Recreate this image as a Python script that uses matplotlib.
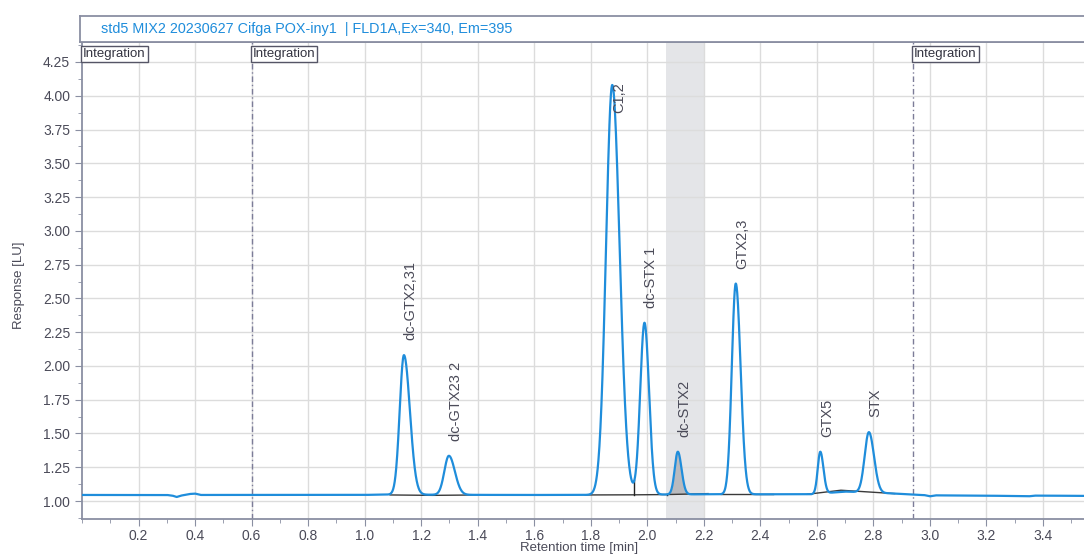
import numpy as np
import matplotlib.pyplot as plt
from matplotlib.ticker import MultipleLocator, FormatStrFormatter

plt.rcParams['font.family'] = ['Liberation Sans', 'DejaVu Sans']

# run info
title = 'std5 MIX2 20230627 Cifga POX-iny1  | FLD1A,Ex=340, Em=395'

# identified peaks: name, retention time [min], apex response [LU], left/right half widths
peak_names = ['dc-GTX2,31', 'dc-GTX23 2', 'C1,2', 'dc-STX 1', 'dc-STX2', 'GTX2,3', 'GTX5', 'STX']
peak_rt = [1.139, 1.298, 1.876, 1.990, 2.108, 2.313, 2.612, 2.784]
peak_top = [2.08, 1.335, 4.08, 2.32, 1.365, 2.61, 1.365, 1.51]
peak_sl = [0.015, 0.016, 0.022, 0.015, 0.011, 0.014, 0.009, 0.015]
peak_sr = [0.021, 0.021, 0.026, 0.016, 0.013, 0.017, 0.011, 0.018]

# detector baseline
base_t = [0.0, 0.30, 0.32, 0.335, 0.35, 0.38, 0.40, 0.42, 1.0, 1.05, 1.5, 1.75,
          2.2, 2.5, 2.58, 2.70, 2.76, 2.88, 2.96, 2.98, 3.00, 3.02, 3.2, 3.35,
          3.37, 3.4, 3.55]
base_v = [1.045, 1.045, 1.04, 1.030, 1.04, 1.052, 1.055, 1.045, 1.045, 1.048, 1.045, 1.045,
          1.05, 1.05, 1.05, 1.07, 1.065, 1.055, 1.045, 1.044, 1.035, 1.042, 1.04, 1.035,
          1.040, 1.040, 1.038]

# integration baselines and drop lines
int_t = [[1.09, 1.24, 1.40], [1.78, 1.954, 2.07, 2.215], [2.262, 2.445], [2.566, 2.685, 2.875]]
int_v = [[1.045, 1.042, 1.045], [1.045, 1.046, 1.048, 1.055], [1.05, 1.05], [1.05, 1.08, 1.055]]
drop_t = [1.954, 2.07]

# integration events and highlighted window
events = [0.0, 0.6, 2.94]
band = (2.067, 2.205)


def shape(t, rt, sl, sr):
    s = np.where(t < rt, sl, sr)
    return np.exp(-0.5 * ((t - rt) / s) ** 2)


t = np.linspace(0, 3.545, 4000)
base = np.interp(t, base_t, base_v)

# amplitudes so the summed trace passes through each apex value
rt = np.array(peak_rt)
M = np.array([[shape(np.array([rt[i]]), peak_rt[j], peak_sl[j], peak_sr[j])[0]
               for j in range(len(rt))] for i in range(len(rt))])
amps = np.linalg.solve(M, np.array(peak_top) - np.interp(rt, base_t, base_v))
trace = base.copy()
for a, r, sl, sr in zip(amps, peak_rt, peak_sl, peak_sr):
    trace += a * shape(t, r, sl, sr)

axis_col = '#8a8fa2'
text_col = '#4a4a58'
blue = '#1f8ddb'

fig = plt.figure(figsize=(10.84, 5.57), dpi=100)
ax = fig.add_axes([82 / 1084, 1 - 519 / 557, 1 - 82 / 1084, 477 / 557])

ax.axvspan(band[0], band[1], color='#e4e5e8', zorder=0, lw=0)

for ev in events[1:]:
    ax.axvline(ev, color='#7c7c98', lw=1, ls=(0, (4, 2, 1, 2)), zorder=1)

# shaded area of dc-STX2 above its baseline
seg = 1
m = (t >= int_t[seg][2]) & (t <= int_t[seg][3])
ax.fill_between(t[m], np.interp(t[m], int_t[seg], int_v[seg]), trace[m],
                color='#b9babe', lw=0, zorder=2)

for xs, ys in zip(int_t, int_v):
    ax.plot(xs, ys, color='#3a3a3a', lw=1, zorder=2)
for d in drop_t:
    yb = np.interp(d, int_t[1], int_v[1])
    ax.plot([d, d], [yb, np.interp(d, t, trace)], color='#222222', lw=1, zorder=2)

ax.plot(t, trace, color=blue, lw=1.6, zorder=3)

for name, r, top in zip(peak_names, peak_rt, peak_top):
    if top > 3.5:
        ax.text(r + 0.026, top + 0.02, name, rotation=90, ha='center', va='top',
                fontsize=10.5, color=text_col, zorder=4)
    else:
        ax.text(r + 0.024, top + 0.11, name, rotation=90, ha='center', va='bottom',
                fontsize=10.5, color=text_col, zorder=4)

for ev in events:
    ax.text(ev + 0.004, 4.352, 'Integration', ha='left', va='top', fontsize=9.5,
            color='#333340', zorder=5,
            bbox=dict(boxstyle='square,pad=0.15', fc='white', ec='#555566', lw=1))

ax.set_xlim(0, 3.545)
ax.set_ylim(0.867, 4.398)
ax.set_xticks(np.arange(0.2, 3.5, 0.2))
ax.xaxis.set_minor_locator(MultipleLocator(0.1))
ax.set_yticks(np.arange(1.0, 4.26, 0.25))
ax.yaxis.set_minor_locator(MultipleLocator(0.125))
ax.xaxis.set_major_formatter(FormatStrFormatter('%.1f'))
ax.yaxis.set_major_formatter(FormatStrFormatter('%.2f'))
ax.grid(True, which='major', color='#dcdcdc', lw=1)
ax.set_axisbelow(True)
ax.tick_params(which='both', direction='out', color=axis_col, labelcolor=text_col, labelsize=10)
ax.tick_params(which='major', length=5)
ax.tick_params(which='minor', length=3)
ax.tick_params(axis='x', pad=2)
for s in ['left', 'bottom', 'top']:
    ax.spines[s].set_color(axis_col)
    ax.spines[s].set_linewidth(1.3)
ax.spines['right'].set_visible(False)

ax.set_xlabel('Retention time [min]', fontsize=9.5, color=text_col)
ax.xaxis.set_label_coords(0.496, -23 / 477)
ax.set_ylabel('Response [LU]', fontsize=9.5, color=text_col)
ax.yaxis.set_label_coords(-57 / 1002, 0.49)

# header strip
hdr = fig.add_axes([80 / 1084, 1 - 42 / 557, 1 - 80 / 1084, 26 / 557])
hdr.set_xticks([])
hdr.set_yticks([])
for s in ['left', 'bottom', 'top']:
    hdr.spines[s].set_color(axis_col)
    hdr.spines[s].set_linewidth(1.3)
hdr.spines['right'].set_visible(False)
hdr.text(21 / 1004, 0.5, title, ha='left', va='center', fontsize=10.4, color=blue)

fig.savefig('out.png', dpi=100)
